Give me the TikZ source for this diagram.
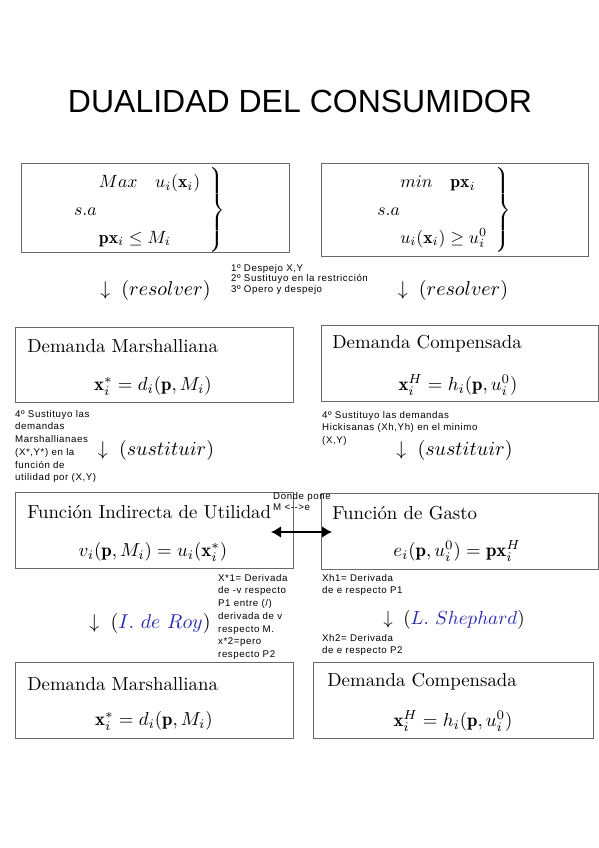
\documentclass[tikz,border=0pt]{standalone}
\usepackage{amsmath}
\usepackage{fontspec}
\newfontfamily\arial[LetterSpace=6]{Liberation Sans}
\newfontfamily\arialtit{Liberation Sans}
\usetikzlibrary{arrows.meta}
\definecolor{azul}{RGB}{40,40,180}
\definecolor{borde}{RGB}{105,105,105}

\begin{document}
\begin{tikzpicture}[x=1pt,y=-1pt]
  \tikzstyle{caja}=[draw=borde, line width=0.8pt, inner sep=0pt]
  \tikzstyle{mate}=[inner sep=0pt, scale=1.77, transform shape]
  \tikzstyle{formula}=[inner sep=0pt, scale=1.88, transform shape]
  \tikzstyle{rotulo}=[formula, anchor=west]
  \tikzstyle{paso}=[inner sep=0pt, scale=2, transform shape]
  \tikzstyle{nota}=[anchor=north west, inner sep=0pt, align=left, font=\arial\fontsize{9.7}{12.7}\selectfont]

  \useasboundingbox (0,0) rectangle (599,848);

  \node[inner sep=0pt, font=\arialtit\fontsize{32}{36}\selectfont] (tit) at (300,101) {DUALIDAD DEL CONSUMIDOR};

  % cajas
  \node[caja, minimum width=268pt, minimum height=89pt] (1) at (155,207.5) {};
  \node[caja, minimum width=267pt, minimum height=93pt] (2) at (454.5,209.5) {};
  \node[caja, minimum width=278pt, minimum height=75pt] (3) at (154,364.5) {};
  \node[caja, minimum width=277pt, minimum height=76pt] (4) at (459.5,363) {};
  \node[caja, minimum width=278pt, minimum height=76pt] (5) at (154,530.5) {};
  \node[caja, minimum width=277pt, minimum height=76pt] (6) at (459.5,531) {};
  \node[caja, minimum width=278pt, minimum height=76pt] (7) at (154,700) {};
  \node[caja, minimum width=280pt, minimum height=76pt] (8) at (453,700) {};

  % problemas
  \node[mate] (p1) at (144,210) {\renewcommand{\arraystretch}{1.3}$\left.\begin{array}{l}
      \hspace{1.4em}Max\quad u_i(\mathbf{x}_i)\\
      s.a\\
      \hspace{1.4em}\mathbf{p}\mathbf{x}_i\leq M_i
    \end{array}\right\}$};
  \node[mate] (p2) at (439,210) {\renewcommand{\arraystretch}{1.3}$\left.\begin{array}{l}
      \hspace{1.3em}min\quad \mathbf{p}\mathbf{x}_i\\
      s.a\\
      \hspace{1.3em}u_i(\mathbf{x}_i)\geq u_i^0
    \end{array}\right\}$};

  % titulos y funciones
  \node[rotulo] (t3) at (27,346)  {Demanda Marshalliana};
  \node[rotulo] (t4) at (332,344) {Demanda Compensada};
  \node[rotulo] (t5) at (27,512)  {Función Indirecta de Utilidad};
  \node[rotulo] (t6) at (332,513) {Función de Gasto};
  \node[rotulo] (t7) at (27,684)  {Demanda Marshalliana};
  \node[rotulo] (t8) at (327,682) {Demanda Compensada};

  \node[formula] (f3) at (153,386) {$\mathbf{x}_i^{*}=d_i(\mathbf{p},M_i)$};
  \node[formula] (f4) at (458,385) {$\mathbf{x}_i^{H}=h_i(\mathbf{p},u_i^0)$};
  \node[formula] (f5) at (153,552) {$v_i(\mathbf{p},M_i)=u_i(\mathbf{x}_i^{*})$};
  \node[formula] (f6) at (457,551) {$e_i(\mathbf{p},u_i^0)=\mathbf{p}\mathbf{x}_i^{H}$};
  \node[formula] (f7) at (154,721) {$\mathbf{x}_i^{*}=d_i(\mathbf{p},M_i)$};
  \node[formula] (f8) at (453,721) {$\mathbf{x}_i^{H}=h_i(\mathbf{p},u_i^0)$};

  % pasos
  \node[paso] (r1) at (155.5,290) {$\downarrow\;(resolver)$};
  \node[paso] (r2) at (453,290) {$\downarrow\;(resolver)$};
  \node[paso] (s1) at (156,450) {$\downarrow\;(sustituir)$};
  \node[paso] (s2) at (454.5,450) {$\downarrow\;(sustituir)$};
  \node[paso] (roy) at (150,623) {$\downarrow\;({\color{azul}I.\ de\ Roy})$};
  \node[paso, scale=0.95] (she) at (454,620) {$\downarrow\;({\color{azul}L.\ Shephard})$};

  % notas
  \node[nota, font=\arial\fontsize{9.7}{10.5}\selectfont] (n1) at (231,264) {1º Despejo X,Y\\2º Sustituyo en la restricción\\3º Opero y despejo};
  \node[nota] (n2) at (15,410) {4º Sustituyo las\\demandas\\Marshallianaes\\(X*,Y*) en la\\función de\\utilidad por (X,Y)};
  \node[nota] (n3) at (322,411) {4º Sustituyo las demandas\\Hickisanas (Xh,Yh) en el minimo\\(X,Y)};
  \node[nota] (n4) at (218,574) {X*1= Derivada\\de -v respecto\\P1 entre (/)\\derivada de v\\respecto M.\\x*2=pero\\respecto P2};
  \node[nota] (n5) at (322,574) {Xh1= Derivada\\de e respecto P1};
  \node[nota] (n6) at (322,634) {Xh2= Derivada\\de e respecto P2};
  \node[nota, font=\arial\fontsize{9.7}{11}\selectfont] (n7) at (273,492) {Donde pone\\M <-->e};

  \coordinate (a1) at (271,532);
  \coordinate (a2) at (332,532);
  \draw[line width=2.8pt, {Latex[length=10pt,width=12pt]}-{Latex[length=10pt,width=12pt]}] (a1) -- (a2);
\end{tikzpicture}
\end{document}
